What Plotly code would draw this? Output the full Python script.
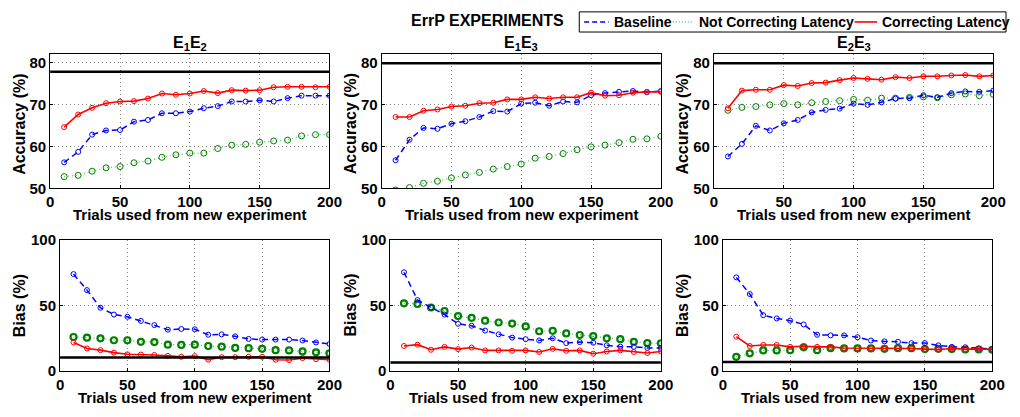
import plotly.graph_objects as go

trials = list(range(10, 201, 10))

# Accuracy (%) panels
acc_e1e2_base = [56.2, 58.7, 62.8, 63.8, 63.9, 65.9, 66.3, 67.9, 67.9, 68.3, 69.1, 69.6, 70.7, 70.7, 71.0, 70.7, 71.5, 72.1, 72.1, 72.1]
acc_e1e2_notc = [52.8, 53.1, 54.1, 54.9, 55.2, 56.1, 56.5, 57.4, 58.0, 58.4, 58.4, 59.5, 60.3, 60.5, 61.0, 61.3, 61.5, 62.5, 62.8, 62.8]
acc_e1e2_corr = [64.6, 67.6, 69.2, 70.3, 70.7, 70.8, 71.4, 72.6, 72.3, 72.6, 73.2, 72.7, 73.4, 73.3, 73.4, 74.1, 74.2, 74.2, 74.1, 74.2]

acc_e1e3_base = [56.7, 61.6, 64.4, 64.2, 65.4, 66.0, 67.0, 68.4, 68.3, 70.2, 70.4, 69.7, 70.7, 70.5, 72.2, 72.7, 73.0, 73.2, 72.9, 73.2]
acc_e1e3_notc = [49.6, 50.2, 51.2, 51.7, 52.5, 53.2, 53.8, 54.6, 55.2, 55.8, 57.2, 57.6, 58.3, 59.2, 59.9, 60.3, 60.9, 61.7, 61.8, 62.4]
acc_e1e3_corr = [67.0, 67.0, 68.5, 68.8, 69.5, 69.7, 70.3, 70.4, 71.2, 71.2, 71.7, 71.4, 71.7, 71.7, 72.8, 72.1, 72.2, 72.8, 73.0, 73.0]

acc_e2e3_base = [57.6, 60.6, 64.9, 63.8, 65.5, 66.3, 68.1, 68.7, 69.0, 70.2, 69.9, 70.5, 71.4, 71.5, 72.2, 71.7, 72.7, 73.1, 73.0, 73.3]
acc_e2e3_notc = [68.6, 69.3, 69.5, 69.9, 70.2, 69.9, 70.4, 70.7, 70.9, 71.2, 71.0, 71.5, 71.5, 71.7, 71.8, 71.6, 72.3, 72.5, 72.1, 72.4]
acc_e2e3_corr = [69.1, 73.3, 73.5, 73.5, 74.6, 74.4, 75.1, 75.2, 75.8, 76.3, 76.1, 75.9, 76.5, 76.3, 76.7, 76.7, 76.9, 77.0, 76.7, 76.9]

# Bias (%) panels
bias_e1e2_base = [74.0, 61.7, 48.2, 43.0, 41.3, 38.1, 34.9, 31.4, 31.9, 31.7, 27.5, 27.8, 26.3, 24.3, 23.8, 23.8, 23.8, 23.1, 21.6, 20.4]
bias_e1e2_notc = [25.8, 25.3, 24.8, 23.3, 23.3, 22.1, 21.9, 19.9, 19.7, 19.9, 18.9, 18.4, 17.4, 17.2, 16.7, 15.7, 15.5, 14.7, 14.0, 13.3]
bias_e1e2_corr = [21.6, 17.0, 15.7, 13.8, 12.5, 12.3, 12.0, 11.3, 10.6, 11.1, 8.4, 10.3, 10.3, 10.6, 10.6, 8.4, 8.1, 9.6, 8.8, 8.4]

bias_e1e3_base = [75.4, 54.1, 48.4, 43.0, 35.9, 34.4, 30.7, 27.8, 25.3, 24.1, 23.1, 24.8, 21.1, 21.9, 21.4, 19.4, 18.4, 18.2, 17.4, 17.4]
bias_e1e3_notc = [51.6, 51.1, 48.4, 45.7, 41.8, 40.5, 38.3, 36.9, 36.1, 33.9, 30.2, 30.5, 28.5, 27.3, 26.5, 24.8, 24.1, 22.1, 21.1, 20.9]
bias_e1e3_corr = [18.9, 19.9, 16.0, 18.2, 16.5, 17.7, 15.5, 15.5, 15.2, 15.5, 14.3, 16.7, 15.2, 15.5, 13.0, 14.7, 15.5, 14.3, 13.5, 14.7]

bias_e2e3_base = [71.5, 58.7, 42.5, 40.0, 38.3, 35.4, 27.5, 27.0, 27.0, 25.6, 23.1, 22.4, 22.1, 21.1, 21.1, 19.4, 18.2, 17.9, 17.0, 16.5]
bias_e2e3_notc = [10.6, 13.3, 15.5, 15.5, 15.7, 17.9, 15.7, 17.2, 17.0, 17.0, 17.0, 16.7, 17.2, 17.2, 16.5, 16.7, 16.5, 16.2, 16.2, 16.0]
bias_e2e3_corr = [26.0, 18.9, 19.7, 19.7, 18.2, 18.7, 18.2, 18.2, 17.4, 17.4, 17.2, 17.4, 17.4, 17.0, 16.5, 16.2, 17.0, 16.5, 16.7, 16.2]

# reference (black) levels per panel
ref_acc = [77.8, 79.8, 79.8]
ref_bias = [10.0, 6.2, 6.7]

series_names = ["Baseline", "Not Correcting Latency", "Correcting Latency"]
titles = ["E<sub>1</sub>E<sub>2</sub>", "E<sub>1</sub>E<sub>3</sub>", "E<sub>2</sub>E<sub>3</sub>"]
x_ticks = [0, 50, 100, 150, 200]
acc_ticks = [50, 60, 70, 80]
bias_ticks = [0, 50, 100]

FONT = "Liberation Sans"
W, H = 1020, 417

def px_x(p):
    return p / W

def px_y(p):
    return 1 - p / H

top_boxes = [(47, 331), (384, 668), (722, 1006)]
bot_boxes = [(57, 331), (393, 668), (731, 1005)]
top_y = (47, 187)
bot_y = (241, 377)

BLUE = "#0000ff"
GREEN = "#008000"
GREEN_LINE = "#55b855"
RED = "#ff0000"

fig = go.Figure()

acc_sets = [
    (acc_e1e2_base, acc_e1e2_notc, acc_e1e2_corr),
    (acc_e1e3_base, acc_e1e3_notc, acc_e1e3_corr),
    (acc_e2e3_base, acc_e2e3_notc, acc_e2e3_corr),
]
bias_sets = [
    (bias_e1e2_base, bias_e1e2_notc, bias_e1e2_corr),
    (bias_e1e3_base, bias_e1e3_notc, bias_e1e3_corr),
    (bias_e2e3_base, bias_e2e3_notc, bias_e2e3_corr),
]

def add_series(xa, ya, base, notc, corr, green_marker_w):
    fig.add_trace(go.Scatter(x=trials, y=notc, mode="lines+markers", xaxis=xa, yaxis=ya,
                             name=series_names[1],
                             line=dict(color=GREEN_LINE, width=1.2, dash="1px,3px"),
                             marker=dict(symbol="circle-open", size=6, color=GREEN,
                                         line=dict(width=green_marker_w, color=GREEN)),
                             showlegend=False))
    fig.add_trace(go.Scatter(x=trials, y=base, mode="lines+markers", xaxis=xa, yaxis=ya,
                             name=series_names[0],
                             line=dict(color=BLUE, width=1.5, dash="6px,4px"),
                             marker=dict(symbol="circle-open", size=5, color=BLUE,
                                         line=dict(width=1, color=BLUE)),
                             showlegend=False))
    fig.add_trace(go.Scatter(x=trials, y=corr, mode="lines+markers", xaxis=xa, yaxis=ya,
                             name=series_names[2],
                             line=dict(color=RED, width=1.6),
                             marker=dict(symbol="circle-open", size=5, color=RED,
                                         line=dict(width=1, color=RED)),
                             showlegend=False))

layout = {}
annotations = []
shapes = []
tickfont = dict(family=FONT, size=15, color="black", weight="bold")
axfont = dict(family=FONT, size=15, color="black", weight="bold")
yfont = dict(family=FONT, size=16, color="black", weight="bold")

for i in range(3):
    # top row
    n = i + 1
    xa, ya = f"x{n}" if n > 1 else "x", f"y{n}" if n > 1 else "y"
    xk, yk = f"xaxis{n}" if n > 1 else "xaxis", f"yaxis{n}" if n > 1 else "yaxis"
    x0, x1 = top_boxes[i]
    layout[xk] = dict(domain=[px_x(x0), px_x(x1)], anchor=ya, range=[0, 200],
                      tickvals=x_ticks, tickfont=tickfont)
    layout[yk] = dict(domain=[px_y(top_y[1]), px_y(top_y[0])], anchor=xa, range=[50, 82],
                      tickvals=acc_ticks, tickfont=tickfont)
    base, notc, corr = acc_sets[i]
    add_series(xa, ya, base, notc, corr, 1)
    shapes.append(dict(type="line", xref=f"{xa} domain", yref=ya, x0=0, x1=1,
                       y0=ref_acc[i], y1=ref_acc[i], line=dict(color="black", width=2.5)))
    cx = px_x((x0 + x1) / 2)
    annotations.append(dict(text=titles[i], x=cx, y=px_y(36), xref="paper", yref="paper",
                            showarrow=False, font=dict(family=FONT, size=16, color="black", weight="bold"),
                            xanchor="center", yanchor="middle"))
    annotations.append(dict(text="Trials used from new experiment", x=cx, y=px_y(214),
                            xref="paper", yref="paper", showarrow=False, font=axfont,
                            xanchor="center", yanchor="middle"))
    annotations.append(dict(text="Accuracy (%)", x=px_x(x0 - 32), y=px_y(120), textangle=-90,
                            xref="paper", yref="paper", showarrow=False, font=yfont,
                            xanchor="center", yanchor="middle"))

    # bottom row
    m = i + 4
    xa, ya = f"x{m}", f"y{m}"
    xk, yk = f"xaxis{m}", f"yaxis{m}"
    x0, x1 = bot_boxes[i]
    layout[xk] = dict(domain=[px_x(x0), px_x(x1)], anchor=ya, range=[0, 200],
                      tickvals=x_ticks, tickfont=tickfont)
    layout[yk] = dict(domain=[px_y(bot_y[1]), px_y(bot_y[0])], anchor=xa, range=[0, 100],
                      tickvals=bias_ticks, tickfont=tickfont)
    base, notc, corr = bias_sets[i]
    add_series(xa, ya, base, notc, corr, 2.2)
    shapes.append(dict(type="line", xref=f"{xa} domain", yref=ya, x0=0, x1=1,
                       y0=ref_bias[i], y1=ref_bias[i], line=dict(color="black", width=2.5)))
    cx = px_x((x0 + x1) / 2)
    annotations.append(dict(text="Trials used from new experiment", x=cx, y=px_y(405),
                            xref="paper", yref="paper", showarrow=False, font=axfont,
                            xanchor="center", yanchor="middle"))
    annotations.append(dict(text="Bias (%)", x=px_x(x0 - 41), y=px_y(309), textangle=-90,
                            xref="paper", yref="paper", showarrow=False, font=yfont,
                            xanchor="center", yanchor="middle"))

for k, v in layout.items():
    v.update(dict(showline=True, linecolor="black", linewidth=1, mirror=True,
                  showgrid=True, gridcolor="#8c8c8c", griddash="1px,3px", gridwidth=1,
                  zeroline=False, ticks="inside", ticklen=3, tickcolor="black"))

# hand-built legend box (top right)
legfont = dict(family=FONT, size=14, color="black", weight="bold")
shapes.append(dict(type="rect", xref="paper", yref="paper", x0=px_x(585), x1=px_x(1019),
                   y0=px_y(24), y1=px_y(3), line=dict(color="black", width=1), fillcolor="white",
                   layer="above"))
leg_items = [
    (series_names[0], 590, 615, 618, dict(color=BLUE, width=1.5, dash="5px,3px")),
    (series_names[1], 677, 701, 705, dict(color=GREEN_LINE, width=1.2, dash="1px,2px")),
    (series_names[2], 865, 888, 891, dict(color=RED, width=1.6)),
]
for name, lx0, lx1, tx, ln in leg_items:
    shapes.append(dict(type="line", xref="paper", yref="paper", x0=px_x(lx0), x1=px_x(lx1),
                       y0=px_y(13.5), y1=px_y(13.5), line=ln, layer="above"))
    annotations.append(dict(text=name, x=px_x(tx), y=px_y(13.5), xref="paper", yref="paper",
                            showarrow=False, font=legfont, xanchor="left", yanchor="middle"))

annotations.append(dict(text="ErrP EXPERIMENTS", x=px_x(492), y=px_y(12), xref="paper", yref="paper",
                        showarrow=False, font=dict(family=FONT, size=16, color="black", weight="bold"),
                        xanchor="center", yanchor="middle"))

fig.update_layout(
    width=W, height=H, margin=dict(l=0, r=0, t=0, b=0),
    paper_bgcolor="white", plot_bgcolor="white",
    font=dict(family=FONT, color="black"),
    showlegend=False,
    annotations=annotations, shapes=shapes,
    **layout,
)

fig.write_html("out.html")
